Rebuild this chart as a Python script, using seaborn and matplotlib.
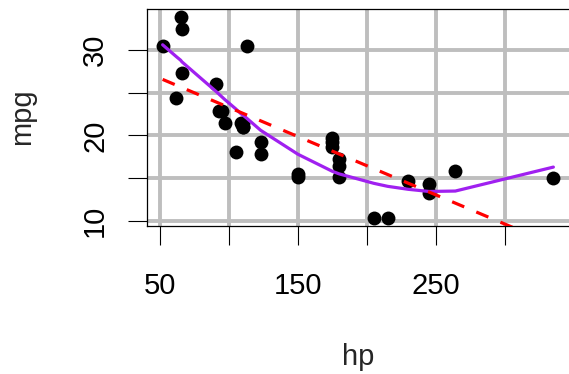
import numpy as np
import pandas as pd
import matplotlib
matplotlib.use("Agg")
import matplotlib.pyplot as plt
import seaborn as sns

# mtcars: horsepower and miles per gallon
hp = [110, 110, 93, 110, 175, 105, 245, 62, 95, 123, 123, 180, 180, 180, 205, 215,
      230, 66, 52, 65, 97, 150, 150, 245, 175, 66, 91, 113, 264, 175, 335, 109]
mpg = [21.0, 21.0, 22.8, 21.4, 18.7, 18.1, 14.3, 24.4, 22.8, 19.2, 17.8, 16.4, 17.3, 15.2,
       10.4, 10.4, 14.7, 32.4, 30.4, 33.9, 21.5, 15.5, 15.2, 13.3, 19.2, 27.3, 26.0, 30.4,
       15.8, 19.7, 15.0, 21.4]

# smoothed (lowess) curve
smooth_hp = [52, 62, 65, 66, 91, 93, 95, 97, 105, 109, 110, 113, 123, 150, 175, 180,
             205, 215, 230, 245, 264, 335]
smooth_mpg = [30.6, 29.2, 28.8, 28.6, 25.1, 24.8, 24.5, 24.2, 23.1, 22.5, 22.4, 22.0,
              20.6, 17.8, 15.8, 15.5, 14.4, 14.05, 13.7, 13.45, 13.5, 16.3]

x_ticks = [50, 100, 150, 200, 250, 300]
x_labels = ["50", "", "150", "", "250", ""]
y_ticks = [10, 15, 20, 25, 30]
y_labels = ["10", "", "20", "", "30"]

sns.set_theme(style="white")
plt.rcParams["font.family"] = ["Liberation Sans", "DejaVu Sans"]
FS = 21

df = pd.DataFrame({"hp": hp, "mpg": mpg})
sm = pd.DataFrame({"hp": smooth_hp, "mpg": smooth_mpg})

W, H = 569, 374
fig = plt.figure(figsize=(W / 100, H / 100), dpi=100)
left, right, top, bottom = 147, 569, 8.5, 225.6
ax = fig.add_axes([left / W, 1 - bottom / H, (right - left) / W, (bottom - top) / H])

xr = (min(hp), max(hp))
yr = (min(mpg), max(mpg))
xpad = 0.04 * (xr[1] - xr[0])
ypad = 0.04 * (yr[1] - yr[0])
ax.set_xlim(xr[0] - xpad, xr[1] + xpad)
ax.set_ylim(yr[0] - ypad, yr[1] + ypad)

# grid
for xv in x_ticks:
    ax.axvline(xv, color="#BEBEBE", lw=2.8, zorder=0)
for yv in y_ticks:
    ax.axhline(yv, color="#BEBEBE", lw=2.8, zorder=0)

sns.scatterplot(data=df, x="hp", y="mpg", ax=ax, color="black", s=100,
                linewidth=0, zorder=2)
sns.lineplot(data=sm, x="hp", y="mpg", ax=ax, color="#A020F0", lw=2.3,
             zorder=3, sort=False)
sns.regplot(data=df, x="hp", y="mpg", ax=ax, scatter=False, ci=None, truncate=True,
            color="red", line_kws=dict(lw=2.3, dashes=(4.1, 4.1), zorder=4))

ax.set_xlim(xr[0] - xpad, xr[1] + xpad)
ax.set_ylim(yr[0] - ypad, yr[1] + ypad)

ax.set_xticks(x_ticks)
ax.set_xticklabels(x_labels, fontsize=FS, color="black")
ax.set_yticks(y_ticks)
ax.set_yticklabels(y_labels, fontsize=FS, color="black", rotation=90, va="center")
ax.tick_params(axis="x", direction="out", length=13.7, width=0.8, color="black",
               pad=19.5, bottom=True)
ax.tick_params(axis="y", direction="out", length=13.7, width=0.8, color="black",
               pad=13.5, left=True)
ax.grid(False)
ax.set_xlabel("")
ax.set_ylabel("")
for side in ["left", "bottom", "top"]:
    ax.spines[side].set_visible(True)
    ax.spines[side].set_color("black")
    ax.spines[side].set_linewidth(0.9)
ax.spines["right"].set_visible(False)

fig.text(358 / W, 1 - 357 / H, "hp", fontsize=FS, ha="center", va="center")
fig.text(22.5 / W, 1 - 117 / H, "mpg", fontsize=FS, ha="center", va="center",
         rotation=90)

fig.savefig("out.png", dpi=100)
